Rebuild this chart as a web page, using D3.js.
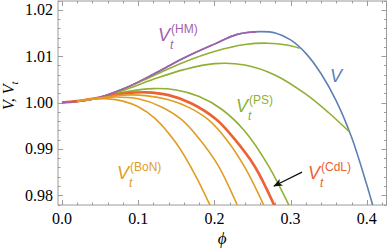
<!DOCTYPE html>
<html>
<head>
<meta charset="utf-8">
<script src="https://cdn.jsdelivr.net/npm/d3@7"></script>
<style>
  html, body { margin: 0; padding: 0; background: #fff; }
  svg { display: block; }
</style>
</head>
<body>
<svg></svg>
<script>
(function() {

    // tick values
    const phiTicks = [0, 0.1, 0.2, 0.3, 0.4];
    const valTicks = [0.98, 0.99, 1.00, 1.01, 1.02];

    // V (blue)
    const vPhi = [0, 0.04, 0.08, 0.12, 0.16, 0.2, 0.23, 0.26, 0.28, 0.3, 0.32, 0.34, 0.36, 0.38, 0.4, 0.41];
    const vVal = [1, 1.0007, 1.0029, 1.0061, 1.0096, 1.0126, 1.0147, 1.0153, 1.0150, 1.0135, 1.0106, 1.0062, 1.0003, 0.9925, 0.9822, 0.9765];

    // V_t^(HM) (purple)
    const hmPhi = [0, 0.04, 0.08, 0.12, 0.16, 0.2, 0.23, 0.255];
    const hmVal = [1, 1.0007, 1.0029, 1.0061, 1.0096, 1.0126, 1.0147, 1.0152];

    // V_t^(PS) (green), three t values
    const ps1Phi = [0, 0.04, 0.08, 0.12, 0.16, 0.2, 0.24, 0.27, 0.295, 0.312];
    const ps1Val = [1, 1.0007, 1.0029, 1.0058, 1.0087, 1.0110, 1.0125, 1.0128, 1.0124, 1.0117];
    const ps2Phi = [0, 0.04, 0.08, 0.12, 0.16, 0.2, 0.24, 0.28, 0.32, 0.35, 0.377];
    const ps2Val = [1, 1.0007, 1.0026, 1.0050, 1.0071, 1.0084, 1.0081, 1.0059, 1.0018, 0.9978, 0.9937];
    const ps3Phi = [0, 0.04, 0.08, 0.12, 0.15, 0.18, 0.21, 0.24, 0.27, 0.3];
    const ps3Val = [1, 1.0007, 1.0022, 1.0030, 1.0027, 1.0013, 0.9985, 0.9938, 0.9866, 0.9771];

    // V_t^(CdL) (red)
    const cdlPhi = [0, 0.02, 0.05, 0.08, 0.11, 0.14, 0.17, 0.203, 0.226, 0.253, 0.283];
    const cdlVal = [1, 1.0003, 1.0011, 1.0019, 1.0022, 1.0016, 0.9998, 0.9963, 0.9922, 0.9862, 0.9762];

    // V_t^(BoN) (orange), three t values
    const bon1Phi = [0, 0.02, 0.04, 0.06, 0.08, 0.1, 0.122, 0.15, 0.175, 0.2];
    const bon1Val = [1, 1.0003, 1.0007, 1.0008, 1.0003, 0.9991, 0.9966, 0.9912, 0.9843, 0.9758];
    const bon2Phi = [0, 0.02, 0.04, 0.07, 0.1, 0.13, 0.157, 0.18, 0.205, 0.235];
    const bon2Val = [1, 1.0003, 1.0008, 1.0012, 1.0008, 0.9991, 0.9963, 0.9922, 0.9864, 0.9760];
    const bon3Phi = [0, 0.02, 0.05, 0.08, 0.11, 0.14, 0.167, 0.192, 0.215, 0.24, 0.27];
    const bon3Val = [1, 1.0003, 1.0010, 1.0016, 1.0015, 1.0006, 0.9989, 0.9963, 0.9922, 0.9860, 0.9760];

    const blue = '#5e81b5';
    const orange = '#e19c24';
    const green = '#8fb032';
    const red = '#eb6235';
    const purple = '#a35fac';
    const frameCol = '#9a9a9a';

    const w = 390;
    const h = 252;
    const left = 58, right = 386.5, top = 1, bottom = 205;

    const x = d3.scaleLinear().domain([-0.0052, 0.4258]).range([left, right]);
    const y = d3.scaleLinear().domain([0.9779, 1.0219]).range([bottom, top]);

    const svg = d3.select('svg')
        .attr('width', w)
        .attr('height', h);

    svg.append('clipPath')
        .attr('id', 'plot-clip')
        .append('rect')
        .attr('x', left)
        .attr('y', top)
        .attr('width', right - left)
        .attr('height', bottom - top);

    // frame with inward ticks on all four sides
    const minorPhi = d3.range(0, 0.43, 0.02);
    const minorVal = d3.range(0.978, 1.0221, 0.002);

    const frame = svg.append('g').attr('stroke', frameCol).attr('fill', 'none');

    frame.append('rect')
        .attr('x', left)
        .attr('y', top)
        .attr('width', right - left)
        .attr('height', bottom - top)
        .attr('stroke-width', 1);

    const tickLines = (vals, len, horiz) => {
        vals.forEach(v => {
            if (horiz) {
                const px = Math.round(x(v)) + 0.5;
                frame.append('line').attr('x1', px).attr('x2', px).attr('y1', bottom).attr('y2', bottom - len);
                frame.append('line').attr('x1', px).attr('x2', px).attr('y1', top).attr('y2', top + len);
            } else {
                const py = Math.round(y(v)) + 0.5;
                frame.append('line').attr('y1', py).attr('y2', py).attr('x1', left).attr('x2', left + len);
                frame.append('line').attr('y1', py).attr('y2', py).attr('x1', right).attr('x2', right - len);
            }
        });
    };
    tickLines(minorPhi, 2.5, true);
    tickLines(minorVal, 2.5, false);
    tickLines(phiTicks, 5, true);
    tickLines(valTicks, 5, false);

    // tick labels
    svg.append('g')
        .selectAll('text')
        .data(phiTicks)
        .enter()
        .append('text')
        .attr('x', d => x(d))
        .attr('y', 224)
        .attr('text-anchor', 'middle')
        .attr('font-family', 'Liberation Serif, serif')
        .attr('font-size', 16)
        .text(d => d.toFixed(1));

    svg.append('g')
        .selectAll('text')
        .data(valTicks)
        .enter()
        .append('text')
        .attr('x', 53)
        .attr('y', d => y(d) + 5.5)
        .attr('text-anchor', 'end')
        .attr('font-family', 'Liberation Serif, serif')
        .attr('font-size', 16)
        .text(d => d.toFixed(2));

    // axis labels
    const yLab = svg.append('text')
        .attr('transform', 'translate(14,110) rotate(-90)')
        .attr('font-family', 'Liberation Serif, serif')
        .attr('font-size', 16)
        .attr('font-style', 'italic');
    yLab.append('tspan').text('V, V');
    yLab.append('tspan').attr('font-size', 11).attr('dy', 4).text('t');

    svg.append('text')
        .attr('x', (left + right) / 2)
        .attr('y', 244)
        .attr('text-anchor', 'middle')
        .attr('font-family', 'Liberation Serif, serif')
        .attr('font-size', 17)
        .attr('font-style', 'italic')
        .text('\u03d5');

    // curves
    const line = d3.line()
        .x(d => x(d[0]))
        .y(d => y(d[1]))
        .curve(d3.curveCatmullRom.alpha(0.5));

    const series = [
        { phi: vPhi, val: vVal, color: blue, width: 1.6 },
        { phi: ps1Phi, val: ps1Val, color: green, width: 1.6 },
        { phi: ps2Phi, val: ps2Val, color: green, width: 1.6 },
        { phi: ps3Phi, val: ps3Val, color: green, width: 1.6 },
        { phi: cdlPhi, val: cdlVal, color: red, width: 2.6 },
        { phi: hmPhi, val: hmVal, color: purple, width: 1.6 },
        { phi: bon1Phi.slice(1), val: bon1Val.slice(1), color: orange, width: 1.6 },
        { phi: bon2Phi.slice(1), val: bon2Val.slice(1), color: orange, width: 1.6 },
        { phi: bon3Phi.slice(1), val: bon3Val.slice(1), color: orange, width: 1.6 }
    ];

    svg.append('g')
        .attr('clip-path', 'url(#plot-clip)')
        .selectAll('path')
        .data(series)
        .enter()
        .append('path')
        .attr('d', s => line(s.phi.map((p, i) => [p, s.val[i]])))
        .attr('fill', 'none')
        .attr('stroke', s => s.color)
        .attr('stroke-width', s => s.width)
        .attr('stroke-linejoin', 'round');

    // curve labels: V_t^(sup)
    const vLabel = (phi, val, sup, color) => {
        const g = svg.append('g')
            .attr('transform', `translate(${ x(phi) }, ${ y(val) })`)
            .attr('fill', color)
            .attr('font-family', 'Liberation Sans, Arial, sans-serif');
        g.append('text').attr('font-size', 18).attr('font-style', 'italic').text('V');
        if (sup) {
            g.append('text').attr('x', 12).attr('y', 8).attr('font-size', 12).attr('font-style', 'italic').text('t');
            g.append('text').attr('x', 13).attr('y', -8).attr('font-size', 12).text(sup);
        }
    };
    vLabel(0.126, 1.0133, '(HM)', purple);
    vLabel(0.2283, 0.9980, '(PS)', green);
    vLabel(0.0722, 0.9835, '(BoN)', orange);
    vLabel(0.3228, 0.9835, '(CdL)', red);
    vLabel(0.3517, 1.0045, null, blue);

    // arrow pointing at the CdL curve
    svg.append('defs').append('marker')
        .attr('id', 'arrowhead')
        .attr('viewBox', '0 0 10 10')
        .attr('refX', 9)
        .attr('refY', 5)
        .attr('markerWidth', 7)
        .attr('markerHeight', 7)
        .attr('orient', 'auto')
        .append('path')
        .attr('d', 'M0,1 L10,5 L0,9 L2.5,5 Z')
        .attr('fill', '#111');

    svg.append('line')
        .attr('x1', x(0.315))
        .attr('y1', y(0.9850))
        .attr('x2', x(0.2782))
        .attr('y2', y(0.9820))
        .attr('stroke', '#111')
        .attr('stroke-width', 1.3)
        .attr('marker-end', 'url(#arrowhead)');

})();
</script>
</body>
</html>
